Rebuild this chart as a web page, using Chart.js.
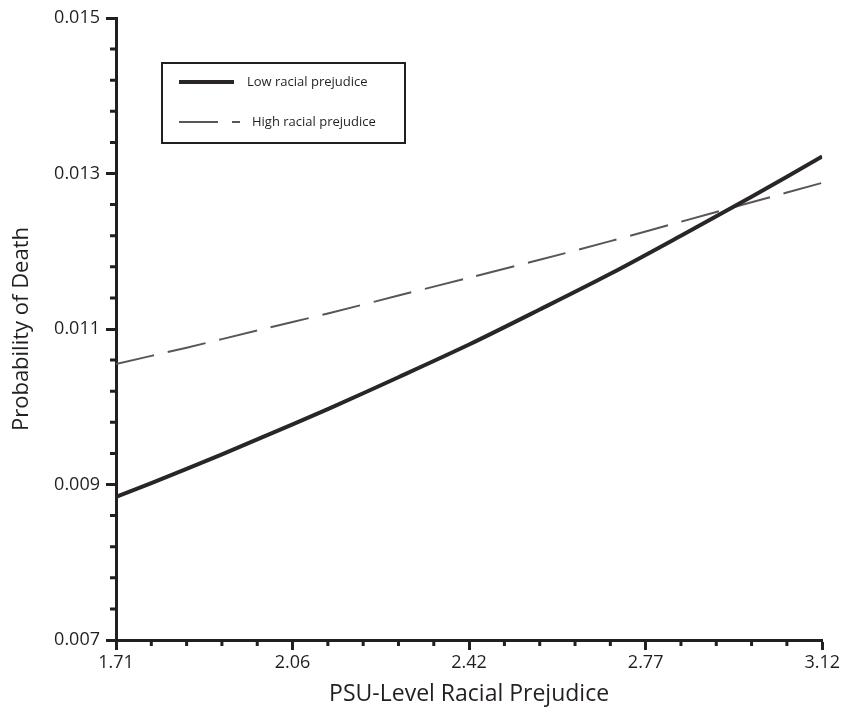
<!DOCTYPE html>
<html lang="en">
<head>
    <meta charset="UTF-8">
    <title>Probability of Death by PSU-Level Racial Prejudice</title>
    <script src="https://cdn.jsdelivr.net/npm/chart.js"></script>
    <style>
        html, body {
            margin: 0;
            padding: 0;
            background-color: #fff;
        }
        .canvas-container {
            width: 842px;
            height: 713px;
        }
    </style>
</head>
<body>
    <div class="canvas-container">
        <canvas id="deathChart"></canvas>
    </div>

    <script>
        // data
        const prejudice = [1.71, 1.851, 1.992, 2.133, 2.274, 2.415, 2.556, 2.697, 2.838, 2.979, 3.12];
        const lowPrejudice = [0.00884, 0.00920, 0.00958, 0.00997, 0.01038, 0.01080, 0.01125, 0.01171, 0.01220, 0.01270, 0.01322];
        const highPrejudice = [0.01055, 0.01076, 0.01098, 0.01120, 0.01143, 0.01166, 0.01189, 0.01213, 0.01238, 0.01263, 0.01288];

        const xMajorTicks = [1.71, 2.0625, 2.415, 2.7675, 3.12];
        const xTickLabels = ['1.71', '2.06', '2.42', '2.77', '3.12'];
        const yMajorTicks = [0.007, 0.009, 0.011, 0.013, 0.015];
        const yTickLabels = ['0.007', '0.009', '0.011', '0.013', '0.015'];

        const ink = '#231f20';
        const fontFamily = '"Open Sans", sans-serif';

        const toPoints = (ys) => ys.map((y, i) => ({ x: prejudice[i], y: y }));

        // minor ticks (5 intervals between majors) + legend box
        const decorations = {
            id: 'decorations',
            afterDraw(chart) {
                const ctx = chart.ctx;
                const xs = chart.scales.x;
                const ys = chart.scales.y;
                const area = chart.chartArea;
                ctx.save();
                ctx.strokeStyle = ink;
                ctx.lineWidth = 3;
                ctx.lineCap = 'butt';
                ctx.beginPath();
                for (let i = 0; i < xMajorTicks.length - 1; i++) {
                    const step = (xMajorTicks[i + 1] - xMajorTicks[i]) / 5;
                    for (let k = 1; k < 5; k++) {
                        const px = xs.getPixelForValue(xMajorTicks[i] + step * k);
                        ctx.moveTo(px, area.bottom);
                        ctx.lineTo(px, area.bottom + 6);
                    }
                }
                for (let i = 0; i < yMajorTicks.length - 1; i++) {
                    const step = (yMajorTicks[i + 1] - yMajorTicks[i]) / 5;
                    for (let k = 1; k < 5; k++) {
                        const py = ys.getPixelForValue(yMajorTicks[i] + step * k);
                        ctx.moveTo(area.left, py);
                        ctx.lineTo(area.left - 6, py);
                    }
                }
                ctx.stroke();

                // legend
                ctx.lineWidth = 2;
                ctx.strokeStyle = ink;
                ctx.strokeRect(162, 63, 243, 80);

                const ds = chart.data.datasets;
                ctx.font = '13px ' + fontFamily;
                ctx.fillStyle = ink;
                ctx.textBaseline = 'middle';

                ctx.strokeStyle = ds[0].borderColor;
                ctx.lineWidth = ds[0].borderWidth;
                ctx.beginPath();
                ctx.moveTo(179, 82);
                ctx.lineTo(234, 82);
                ctx.stroke();
                ctx.fillText(ds[0].label, 247, 82);

                ctx.strokeStyle = ds[1].borderColor;
                ctx.lineWidth = ds[1].borderWidth;
                ctx.setLineDash(ds[1].borderDash);
                ctx.beginPath();
                ctx.moveTo(179, 122);
                ctx.lineTo(240, 122);
                ctx.stroke();
                ctx.setLineDash([]);
                ctx.fillText(ds[1].label, 252, 122);
                ctx.restore();
            }
        };

        const config = {
            type: 'line',
            data: {
                datasets: [{
                    label: 'Low racial prejudice',
                    data: toPoints(lowPrejudice),
                    borderColor: '#2a2627',
                    borderWidth: 4,
                    pointRadius: 0,
                    tension: 0.3,
                    fill: false
                }, {
                    label: 'High racial prejudice',
                    data: toPoints(highPrejudice),
                    borderColor: '#5a5657',
                    borderWidth: 2,
                    borderDash: [39, 14],
                    pointRadius: 0,
                    tension: 0.3,
                    fill: false
                }]
            },
            options: {
                responsive: true,
                maintainAspectRatio: false,
                animation: false,
                layout: {
                    padding: { top: 18, right: 17, bottom: 0, left: 0 }
                },
                scales: {
                    x: {
                        type: 'linear',
                        min: 1.71,
                        max: 3.12,
                        afterBuildTicks: (scale) => {
                            scale.ticks = xMajorTicks.map(v => ({ value: v }));
                        },
                        afterFit: (scale) => { scale.height = 73; },
                        ticks: {
                            autoSkip: false,
                            maxRotation: 0,
                            padding: 2,
                            color: ink,
                            font: { family: fontFamily, size: 18 },
                            callback: (value, index) => xTickLabels[index]
                        },
                        grid: {
                            drawOnChartArea: false,
                            drawTicks: true,
                            tickLength: 10,
                            tickWidth: 3,
                            tickColor: ink
                        },
                        border: { color: ink, width: 3 },
                        title: {
                            display: true,
                            text: 'PSU-Level Racial Prejudice',
                            color: ink,
                            font: { family: fontFamily, size: 23 },
                            padding: { top: 0, bottom: 5 }
                        }
                    },
                    y: {
                        type: 'linear',
                        min: 0.007,
                        max: 0.015,
                        afterBuildTicks: (scale) => {
                            scale.ticks = yMajorTicks.map(v => ({ value: v }));
                        },
                        afterFit: (scale) => { scale.width = 116; },
                        ticks: {
                            autoSkip: false,
                            padding: 6,
                            color: ink,
                            font: { family: fontFamily, size: 18 },
                            callback: (value, index) => yTickLabels[index]
                        },
                        grid: {
                            drawOnChartArea: false,
                            drawTicks: true,
                            tickLength: 10,
                            tickWidth: 3,
                            tickColor: ink
                        },
                        border: { color: ink, width: 3 },
                        title: {
                            display: true,
                            text: 'Probability of Death',
                            color: ink,
                            font: { family: fontFamily, size: 22 },
                            padding: { top: 9, bottom: 0 }
                        }
                    }
                },
                plugins: {
                    legend: { display: false },
                    title: { display: false },
                    tooltip: { enabled: false }
                }
            },
            plugins: [decorations]
        };

        window.onload = function() {
            const ctx = document.getElementById('deathChart').getContext('2d');
            new Chart(ctx, config);
        };
    </script>
</body>
</html>
